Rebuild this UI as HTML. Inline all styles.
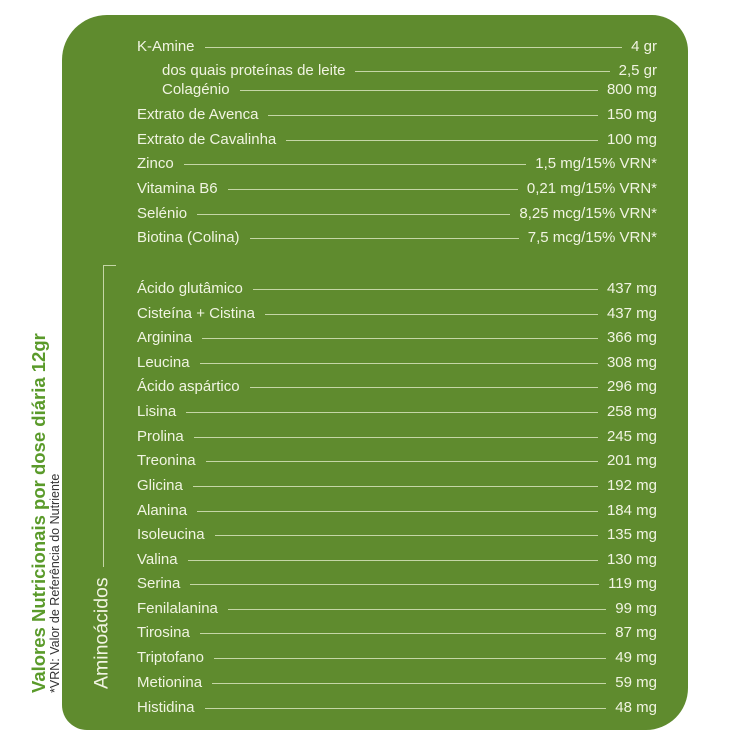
<!DOCTYPE html>
<html><head><meta charset="utf-8"><style>
body{margin:0;width:750px;height:750px;background:#fff;position:relative;overflow:hidden;font-family:"Liberation Sans",sans-serif;}
.panel{position:absolute;left:62px;top:15px;width:626px;height:715px;background:#5f8b2e;border-radius:45px 36px 42px 25px;}
.row{position:absolute;left:137px;width:520px;height:20px;display:flex;align-items:center;color:#f1f4e2;font-size:15px;white-space:nowrap;}
.row .l{flex:1;height:1px;background:#c5d6a6;margin:0 9px 0 10px;position:relative;top:1px;}
.in{left:162px;width:495px;}
.t1{position:absolute;left:39px;top:693px;transform-origin:0 0;transform:rotate(-90deg) translateY(-50%);font-weight:bold;font-size:18.5px;color:#5a9a2a;white-space:nowrap;}
.t2{position:absolute;left:55px;top:693px;transform-origin:0 0;transform:rotate(-90deg) translateY(-50%);font-size:12.5px;color:#333;white-space:nowrap;}
.t3{position:absolute;left:102px;top:689px;transform-origin:0 0;transform:rotate(-90deg) translateY(-50%);font-size:19.5px;color:#f1f4e2;white-space:nowrap;}
</style></head><body>
<div class="panel"></div>
<div style="position:absolute;left:103px;top:265px;width:1px;height:302px;background:#c5d6a6"></div>
<div style="position:absolute;left:103px;top:265px;width:13px;height:1px;background:#c5d6a6"></div>
<div class="t1">Valores Nutricionais por dose diária 12gr</div>
<div class="t2">*VRN: Valor de Referência do Nutriente</div>
<div class="t3">Aminoácidos</div>

<div class="row" style="top:36px">K-Amine<span class="l"></span>4 gr</div>
<div class="row in" style="top:60px">dos quais proteínas de leite<span class="l"></span>2,5 gr</div>
<div class="row in" style="top:79px">Colagénio<span class="l"></span>800 mg</div>
<div class="row" style="top:104px">Extrato de Avenca<span class="l"></span>150 mg</div>
<div class="row" style="top:129px">Extrato de Cavalinha<span class="l"></span>100 mg</div>
<div class="row" style="top:153px">Zinco<span class="l"></span>1,5 mg/15% VRN*</div>
<div class="row" style="top:178px">Vitamina B6<span class="l"></span>0,21 mg/15% VRN*</div>
<div class="row" style="top:203px">Selénio<span class="l"></span>8,25 mcg/15% VRN*</div>
<div class="row" style="top:227px">Biotina (Colina)<span class="l"></span>7,5 mcg/15% VRN*</div>

<div class="row" style="top:278px">Ácido glutâmico<span class="l"></span>437 mg</div>
<div class="row" style="top:303px">Cisteína + Cistina<span class="l"></span>437 mg</div>
<div class="row" style="top:327px">Arginina<span class="l"></span>366 mg</div>
<div class="row" style="top:352px">Leucina<span class="l"></span>308 mg</div>
<div class="row" style="top:376px">Ácido aspártico<span class="l"></span>296 mg</div>
<div class="row" style="top:401px">Lisina<span class="l"></span>258 mg</div>
<div class="row" style="top:426px">Prolina<span class="l"></span>245 mg</div>
<div class="row" style="top:450px">Treonina<span class="l"></span>201 mg</div>
<div class="row" style="top:475px">Glicina<span class="l"></span>192 mg</div>
<div class="row" style="top:500px">Alanina<span class="l"></span>184 mg</div>
<div class="row" style="top:524px">Isoleucina<span class="l"></span>135 mg</div>
<div class="row" style="top:549px">Valina<span class="l"></span>130 mg</div>
<div class="row" style="top:573px">Serina<span class="l"></span>119 mg</div>
<div class="row" style="top:598px">Fenilalanina<span class="l"></span>99 mg</div>
<div class="row" style="top:622px">Tirosina<span class="l"></span>87 mg</div>
<div class="row" style="top:647px">Triptofano<span class="l"></span>49 mg</div>
<div class="row" style="top:672px">Metionina<span class="l"></span>59 mg</div>
<div class="row" style="top:697px">Histidina<span class="l"></span>48 mg</div>
</body></html>
